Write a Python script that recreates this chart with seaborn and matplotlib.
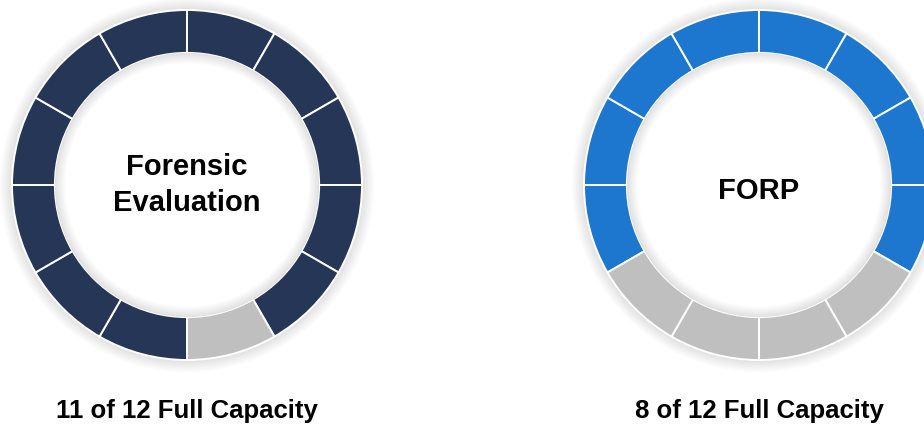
import numpy as np
import matplotlib
matplotlib.use("Agg")
import matplotlib.pyplot as plt
import seaborn as sns
from matplotlib.patches import Wedge

# data
programs = ["Forensic\nEvaluation", "FORP"]
filled = [11, 8]
capacity = [12, 12]
fill_colors = ["#253656", "#1E77CE"]
empty_color = "#BFBFBF"
start_angles = [270, 210]   # where the filled run begins (clockwise)
centers_px = [187, 759]     # horizontal centre of each donut
label_offsets = [0.0, -0.035]

sns.set_theme(style="white")
plt.rcParams["font.family"] = ["Liberation Sans", "DejaVu Sans"]

W, H = 924, 428
fig = plt.figure(figsize=(W / 100, H / 100), dpi=100)
fig.patch.set_facecolor("white")

R_PX = 175
CY = 185
RING = 0.245
for name, n_full, n_total, col, start, cx, dy in zip(
        programs, filled, capacity, fill_colors, start_angles, centers_px,
        label_offsets):
    ax = fig.add_axes([(cx - R_PX) / W, (H - CY - R_PX) / H,
                       2 * R_PX / W, 2 * R_PX / H])
    ax.set_facecolor("none")

    # soft outer glow
    for i in range(10):
        ax.add_patch(Wedge((0, 0), 1.0 + 0.007 * (i + 1), 0, 360,
                           width=0.007 * (i + 1), color="black",
                           alpha=0.011, lw=0, zorder=0, clip_on=False))

    colors = [col] * n_full + [empty_color] * (n_total - n_full)
    wedges, _ = ax.pie([1] * n_total, colors=colors, startangle=start,
                       counterclock=False, radius=1.0,
                       wedgeprops=dict(width=RING, edgecolor="white",
                                       linewidth=1.4))
    for w in wedges:
        w.set_clip_on(False)

    # soft inner shadow inside the hole
    inner = 1.0 - RING
    for i in range(10):
        ax.add_patch(Wedge((0, 0), inner, 0, 360, width=0.006 * (i + 1),
                           color="black", alpha=0.012, lw=0, zorder=3))

    ax.text(0, dy, name, ha="center", va="center", fontsize=21,
            fontweight="bold", color="black", linespacing=1.4, zorder=5)
    ax.set_xlim(-1, 1)
    ax.set_ylim(-1, 1)
    ax.set_aspect("equal")
    ax.axis("off")

    fig.text(cx / W, 1 - 411 / H, f"{n_full} of {n_total} Full Capacity",
             ha="center", va="center", fontsize=18.5, fontweight="bold",
             color="black")

fig.savefig("out.png", dpi=100, facecolor="white")
